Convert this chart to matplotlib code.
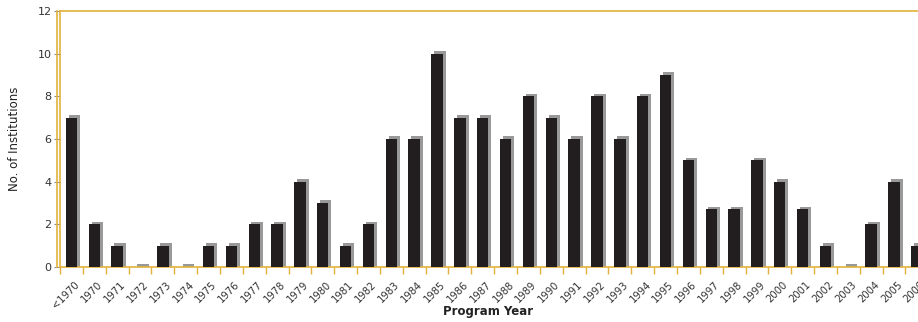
import numpy as np
import matplotlib.pyplot as plt
from matplotlib.lines import Line2D
import matplotlib.transforms as mtransforms

GOLD = "#e3b23c"
DARK = "#221e1f"
SHADE = "#999999"

years = ["<1970", "1970", "1971", "1972", "1973", "1974", "1975", "1976", "1977",
         "1978", "1979", "1980", "1981", "1982", "1983", "1984", "1985", "1986",
         "1987", "1988", "1989", "1990", "1991", "1992", "1993", "1994", "1995",
         "1996", "1997", "1998", "1999", "2000", "2001", "2002", "2003", "2004",
         "2005", "2006"]
institutions = [7, 2, 1, 0, 1, 0, 1, 1, 2, 2, 4, 3, 1, 2, 6, 6, 10, 7, 7, 6, 8, 7,
                6, 8, 6, 8, 9, 5, 2.7, 2.7, 5, 4, 2.7, 1, 0, 2, 4, 1]

W, H = 918, 322
fig = plt.figure(figsize=(W / 100, H / 100), dpi=100)
step = 22.85
n = len(years)
ax = fig.add_axes([60 / W, 55 / H, n * step / W, 256 / H])

x = np.arange(n)
vals = np.array(institutions)
# fake 3d: gray block behind, shifted right/up
ax.bar(x + 0.13, vals + 0.13, width=0.5, color=SHADE, zorder=2)
ax.bar(x, vals, width=0.5, color=DARK, zorder=3)

ax.set_xlim(-0.5, n - 0.5)
ax.set_ylim(0, 12)
ax.set_yticks(np.arange(0, 13, 2))
ax.set_xticks(x)
ax.set_xticklabels(years, rotation=45, ha="right", rotation_mode="anchor",
                   fontsize=7.2, color="#333333")
ax.set_xticks(np.arange(n + 1) - 0.5, minor=True)
ax.tick_params(axis="x", which="major", length=0, pad=9)
ax.tick_params(axis="x", which="minor", length=5, width=1, color=GOLD, direction="out")
ax.tick_params(axis="y", length=4, width=0.8, color="#888888", labelsize=8,
               labelcolor="#333333", pad=2)

for lab in ax.get_xticklabels():
    lab.set_transform(lab.get_transform() + mtransforms.ScaledTranslation(3 / 100, 0, fig.dpi_scale_trans))

for side in ["left", "bottom", "top"]:
    ax.spines[side].set_color(GOLD)
    ax.spines[side].set_linewidth(1.2)
ax.spines["right"].set_visible(False)

# second line of the doubled left axis
off = mtransforms.offset_copy(ax.transAxes, fig=fig, x=-3, y=0, units="dots")
ax.add_line(Line2D([0, 0], [0, 1], transform=off, color=GOLD, lw=1.2, clip_on=False))

ax.set_ylabel("No. of Institutions", fontsize=8.5, color="#222222", labelpad=12)
fig.text(488 / W, 4 / H, "Program Year", fontsize=8.5, color="#222222",
         ha="center", va="bottom", fontweight="semibold")

fig.savefig("out.png", dpi=100)
